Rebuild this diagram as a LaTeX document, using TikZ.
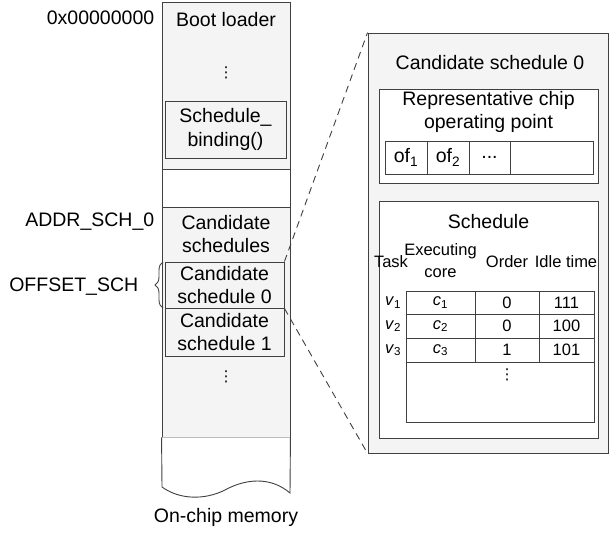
\documentclass[tikz,border=0pt]{standalone}
\usepackage{fontspec}
\setmainfont{Liberation Sans}
\newfontfamily\dotfont{DejaVu Sans}
\usetikzlibrary{decorations.pathreplacing}
\definecolor{linegray}{HTML}{404040}
\definecolor{boxgray}{HTML}{F4F4F4}
\newcommand{\vdotsym}{{\dotfont\fontsize{15}{15}\selectfont ⋮}}
\begin{document}
\begin{tikzpicture}[x=1pt, y=-1pt, line width=0.9pt,
  region/.style={draw=linegray, fill=boxgray, minimum width=128pt, inner sep=0pt},
  cell/.style={draw=linegray, fill=white, inner sep=0pt},
  lbl/.style={font=\fontsize{19.5}{23.5}\selectfont, align=center},
  small/.style={font=\fontsize{16.5}{22}\selectfont, align=center}]
\useasboundingbox (0,0) rectangle (609,534);
% on-chip memory column
\begin{scope}
\node[region, minimum height=167pt] (boot) at (226,85.5) {};
\node[region, fill=white, minimum height=38pt] (gap) at (226,188) {};
\node[region, minimum height=230pt] (schs) at (226,322) {};
\coordinate (wl) at (162,487);
\coordinate (wr) at (290,493);
\fill[white] (schs.south west) -- (wl) .. controls (180,500) and (205,500) .. (225,490) .. controls (245,479) and (270,476) .. (wr) -- (schs.south east) -- cycle;
\draw[linegray] (schs.south west) -- (wl) .. controls (180,500) and (205,500) .. (225,490) .. controls (245,479) and (270,476) .. (wr) -- (schs.south east);
\end{scope}
\begin{scope}[every node/.style={lbl}]
\node (bootlbl) at (226,20) {Boot loader};
\node (bootdots) at (226,73) {\vdotsym};
\node[cell, fill=boxgray, minimum width=121pt, minimum height=57pt] (bind) at (225.5,129.5) {Schedule\_\\binding()};
\node (cands) at (226,234) {Candidate\\schedules};
\node[cell, fill=boxgray, minimum width=119pt, minimum height=46pt] (cs0) at (224.5,285) {Candidate\\schedule 0};
\node[cell, fill=boxgray, minimum width=119pt, minimum height=48pt] (cs1) at (224.5,332) {Candidate\\schedule 1};
\node (schdots) at (226,377) {\vdotsym};
\node (mem) at (226,517) {On-chip memory};
%addresses
\node[anchor=east] (addr0) at (158,18) {0x00000000};
\node[anchor=east] (addrsch) at (158,222) {ADDR\_SCH\_0};
\node[anchor=east] (offset) at (142,287) {OFFSET\_SCH};
\end{scope}
\coordinate (brb) at (163,308);
\coordinate (brt) at (163,262);
\draw[linegray, decorate, decoration={brace, amplitude=8pt}] (brb) -- (brt);
% zoomed candidate schedule
\node[region, minimum width=240pt, minimum height=420pt] (cand) at (488,243) {};
\draw[linegray, dashed, dash pattern=on 7pt off 5pt] (cs0.north east) edge (cand.north west);
\draw[linegray, dashed, dash pattern=on 7pt off 5pt] (cs0.south east) edge (cand.south west);
\begin{scope}[every node/.style={lbl}]
\node (candlbl) at (490,63) {Candidate schedule 0};
\node[cell, minimum width=219pt, minimum height=94pt] (rep) at (488.5,136) {};
\node (replbl) at (488.5,112) {Representative chip\\operating point};
\node[cell, minimum width=42pt, minimum height=33pt] (of1) at (406,157.5) {of\textsubscript{1}};
\node[cell, minimum width=42pt, minimum height=33pt] (of2) at (448,157.5) {of\textsubscript{2}};
\node[cell, minimum width=41pt, minimum height=33pt] (ofdots) at (489.5,157.5) {...};
\node[cell, minimum width=83pt, minimum height=33pt] (ofn) at (551.5,157.5) {};
\node[cell, minimum width=219pt, minimum height=237pt] (sch) at (488.5,319.5) {};
\node (schlbl) at (488.5,222) {Schedule};
%\node (x) at (,) {};
\end{scope}
\begin{scope}[every node/.style={small}]
\node (htask) at (391,262) {Task};
\node (hcore) at (440.5,261) {Executing\\core};
\node (horder) at (507,262) {Order};
\node (hidle) at (566,262) {Idle time};
\node (v1) at (393,302.5) {\textit{v}\textsubscript{1}};
\node (v2) at (393,326) {\textit{v}\textsubscript{2}};
\node (v3) at (393,350) {\textit{v}\textsubscript{3}};
\node[cell, minimum width=69pt, minimum height=23pt] (c1) at (440.5,302.5) {\textit{c}\textsubscript{1}};
\node[cell, minimum width=64pt, minimum height=23pt] (o1) at (507,302.5) {0};
\node[cell, minimum width=55pt, minimum height=23pt] (t1) at (566.5,302.5) {111};
\node[cell, minimum width=69pt, minimum height=24pt] (c2) at (440.5,326) {\textit{c}\textsubscript{2}};
\node[cell, minimum width=64pt, minimum height=24pt] (o2) at (507,326) {0};
\node[cell, minimum width=55pt, minimum height=24pt] (t2) at (566.5,326) {100};
\node[cell, minimum width=69pt, minimum height=24pt] (c3) at (440.5,350) {\textit{c}\textsubscript{3}};
\node[cell, minimum width=64pt, minimum height=24pt] (o3) at (507,350) {1};
\node[cell, minimum width=55pt, minimum height=24pt] (t3) at (566.5,350) {101};
\node[cell, minimum width=188pt, minimum height=60pt] (rest) at (500,392) {};
\node (restdots) at (507,375) {\vdotsym};
\end{scope}
\end{tikzpicture}
\end{document}
